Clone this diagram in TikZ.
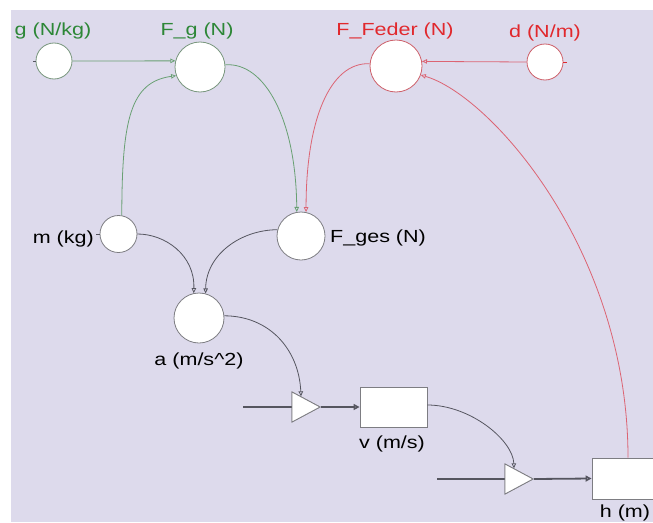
\documentclass[tikz,border=0pt]{standalone}
\usepackage{fontspec}
\setmainfont[FakeStretch=1.23]{Liberation Sans}
\usetikzlibrary{arrows.meta,shapes.geometric}
\definecolor{bg}{RGB}{221,218,236}
\definecolor{gT}{RGB}{45,135,55}
\definecolor{gL}{RGB}{105,160,115}
\definecolor{gB}{RGB}{120,150,125}
\definecolor{rT}{RGB}{225,40,45}
\definecolor{rL}{RGB}{220,100,115}
\definecolor{rB}{RGB}{205,95,105}
\definecolor{kL}{RGB}{85,85,95}
\definecolor{kB}{RGB}{125,125,130}
\tikzset{
  var/.style={circle, draw=kB, fill=white, inner sep=0pt, line width=0.8pt},
  stock/.style={rectangle, draw=kB, fill=white, inner sep=0pt, line width=0.8pt},
  valve/.style={isosceles triangle, isosceles triangle stretches, draw=kB, fill=white,
     inner sep=0pt, minimum height=28pt, minimum width=30pt, line width=0.8pt},
  tip/.style={-{Triangle[open,length=5pt,width=4.5pt]}},
  gconn/.style={tip, draw=gL, line width=0.8pt},
  rconn/.style={tip, draw=rL, line width=0.8pt},
  kconn/.style={tip, draw=kL, line width=0.8pt},
  flow/.style={draw=kL, line width=1.8pt},
  lbl/.style={font=\fontsize{17.5}{19}\selectfont, inner sep=0pt, anchor=base},
  stub/.style={draw=kL, line width=0.8pt},
}
\begin{document}
\begin{tikzpicture}[x=1pt,y=-1pt]
\useasboundingbox (0,0) rectangle (653,522);
\clip (0,0) rectangle (653,522);
\fill[white] (0,0) rectangle (653,522);
\fill[bg] (11,10) rectangle (653,522);

% variables
\node[var, draw=gB, minimum size=36pt] (g) at (54,61) {};
\node[var, draw=gB, minimum size=50pt] (Fg) at (200,67) {};
\node[var, draw=rB, minimum size=52pt] (FF) at (396,66) {};
\node[var, draw=rB, minimum size=36pt] (d) at (545,62) {};
\node[var, minimum size=37pt] (m) at (118.5,234) {};
\node[var, minimum size=48pt] (Fges) at (301,236) {};
\node[var, minimum size=50pt] (a) at (199,318) {};

% flows
\coordinate (s1) at (243,407);
\coordinate (s2) at (437,479);
\node[valve] (t1) at (301,407) {};
\node[stock, minimum width=67pt, minimum height=40pt] (v) at (393.5,407) {};
\node[valve] (t2) at (514,479) {};
\node[stock, minimum width=68pt, minimum height=41pt] (h) at (626,478.5) {};
\draw[flow] (s1) -- (t1.west);
\draw[flow, -{Triangle[open,length=6pt,width=6pt]}] (t1.east) -- (v.west);
\draw[flow] (s2) -- (t2.west);
\draw[flow, -{Triangle[open,length=6pt,width=6pt]}] (t2.east) -- (h.west);
\node[valve] at (t1) {};
\node[valve] at (t2) {};

% stubs
\draw[stub] (g.west) -- ++(-3,0);
\draw[stub] (m.west) -- ++(-4,0);
\draw[stub, draw=rT] (d.east) -- ++(4,0);

% connectors
\draw[gconn] (g.east) -- (Fg.166);
\draw[gconn] (m.80) .. controls (122,120) and (130,82) .. (Fg.200);
\draw[gconn] (Fg.5) .. controls (265,62) and (296,120) .. (Fges.100);
\draw[rconn] (FF.175) .. controls (330,62) and (306,120) .. (Fges.78);
\draw[rconn] (d.west) -- (FF.10);
\draw[rconn] ([xshift=2pt]h.north) .. controls (628,250) and (490,95) .. (FF.-20);
\draw[kconn] (m.east) .. controls (165,234) and (195,255) .. (a.102);
\draw[kconn] (Fges.165) .. controls (240,230) and (206,255) .. (a.75);
\draw[kconn] (a.5) .. controls (270,316) and (299,350) .. (t1.north);
\draw[kconn] ([yshift=2pt]v.east) .. controls (470,405) and (513,440) .. (t2.north);

% labels
\node[lbl, text=gT] (gl) at (53,35) {g (N/kg)};
\node[lbl, text=gT] (Fgl) at (197,35) {F\_g (N)};
\node[lbl, text=rT] (FFl) at (395,35) {F\_Feder (N)};
\node[lbl, text=rT] (dl) at (545,37) {d (N/m)};
\node[lbl, anchor=base east] (ml) at (94,243) {m (kg)};
\node[lbl, anchor=base west] (Fgesl) at (330,242) {F\_ges (N)};
\node[lbl] (al) at (199,365) {a (m/s\textasciicircum 2)};
\node[lbl] (vl) at (392,448) {v (m/s)};
\node[lbl] (hl) at (625,517) {h (m)};
\end{tikzpicture}
\end{document}
